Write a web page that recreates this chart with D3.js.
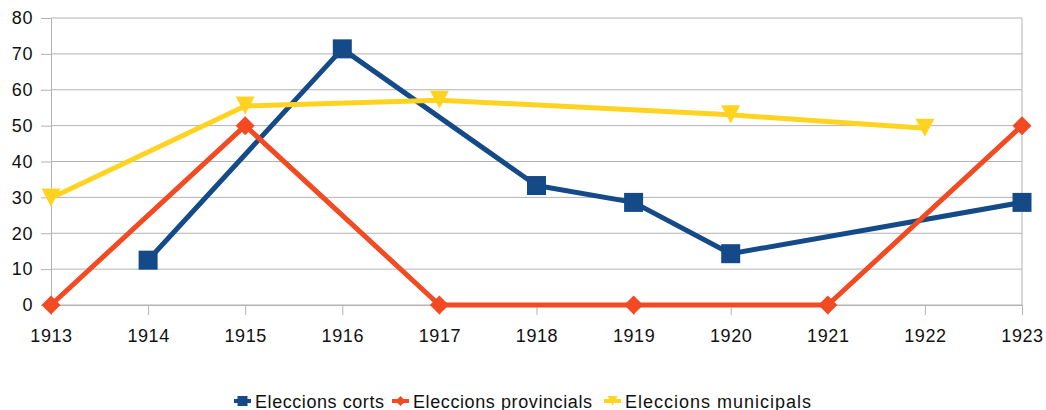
<!DOCTYPE html>
<html>
<head>
<meta charset="utf-8">
<script src="https://cdn.jsdelivr.net/npm/d3@7"></script>
<style>
  body { margin: 0; background: #fff; }
  text { font-family: "Liberation Sans", Arial, sans-serif; fill: #111; }
</style>
</head>
<body>
<svg width="1046" height="410"></svg>
<script>
const years = [1913, 1914, 1915, 1916, 1917, 1918, 1919, 1920, 1921, 1922, 1923];
const yTicks = [0, 10, 20, 30, 40, 50, 60, 70, 80];

// null = no value that year
const corts =       [null, 12.5, null, 71.4, null, 33.3, 28.6, 14.3, null, null, 28.6];
const provincials = [0,    null, 50,   null, 0,    null, 0,    null, 0,    null, 50];
const municipals =  [29.8, null, 55.5, null, 57.1, null, null, 53,   null, 49.3, null];

const seriesNames = ['Eleccions corts', 'Eleccions provincials', 'Eleccions municipals'];
const seriesColors = ['#134a87', '#f24a22', '#ffd320'];
const seriesShapes = ['square', 'diamond', 'triangle'];

const svg = d3.select('svg');
const margin = { top: 18, left: 51, right: 24, bottom: 105 };
const width = +svg.attr('width');
const height = +svg.attr('height');
const innerWidth = width - margin.left - margin.right;
const innerHeight = height - margin.top - margin.bottom;

const xScale = d3.scalePoint().domain(years).range([0, innerWidth]);
const yScale = d3.scaleLinear().domain([0, 80]).range([innerHeight, 0]);

const g = svg.append('g')
  .attr('transform', `translate(${margin.left},${margin.top})`);

// horizontal grid + y axis
const yAxis = d3.axisLeft(yScale)
  .tickValues(yTicks)
  .tickSize(10)
  .tickPadding(8);
const yAxisG = g.append('g').call(yAxis);
yAxisG.select('.domain').attr('stroke', '#b3b3b3');
yAxisG.selectAll('.tick line').attr('stroke', '#b3b3b3');
yAxisG.selectAll('.tick text').attr('font-size', 18).attr('letter-spacing', 0.6);

g.append('g').selectAll('line')
  .data(yTicks)
  .enter().append('line')
  .attr('x1', 0).attr('x2', innerWidth)
  .attr('y1', d => yScale(d)).attr('y2', d => yScale(d))
  .attr('stroke', '#b3b3b3');

// right border
g.append('line')
  .attr('x1', innerWidth).attr('x2', innerWidth)
  .attr('y1', 0).attr('y2', innerHeight)
  .attr('stroke', '#b3b3b3');

// x axis
const xAxis = d3.axisBottom(xScale).tickSize(10).tickPadding(14);
const xAxisG = g.append('g')
  .attr('transform', `translate(0,${innerHeight})`)
  .call(xAxis);
xAxisG.select('.domain').attr('stroke', '#b3b3b3');
xAxisG.selectAll('.tick line').attr('stroke', '#b3b3b3');
xAxisG.selectAll('.tick text').attr('font-size', 18).attr('letter-spacing', 0.6);

const symbolFor = (shape, size) => {
  if (shape === 'square') return d3.symbol(d3.symbolSquare, size * size)();
  const h = size / 2;
  if (shape === 'diamond') return `M0,${-h}L${h},0L0,${h}L${-h},0Z`;
  return `M${-h},${-h}L${h},${-h}L0,${h * 0.9}Z`;
};

const allSeries = [corts, provincials, municipals];

allSeries.forEach((values, i) => {
  const pts = years.map((yr, j) => ({ x: yr, y: values[j] })).filter(d => d.y !== null);
  const line = d3.line()
    .x(d => xScale(d.x))
    .y(d => yScale(d.y));
  g.append('path')
    .datum(pts)
    .attr('fill', 'none')
    .attr('stroke', seriesColors[i])
    .attr('stroke-width', 5)
    .attr('stroke-linejoin', 'round')
    .attr('d', line);
  g.append('g').selectAll('path')
    .data(pts)
    .enter().append('path')
    .attr('transform', d => `translate(${xScale(d.x)},${yScale(d.y)})`)
    .attr('d', symbolFor(seriesShapes[i], 19))
    .attr('fill', seriesColors[i]);
});

// legend
const legendX = [234, 392, 604];
const legendTextW = [129, 179, 186];
const legend = svg.append('g').attr('transform', 'translate(0,401)');
seriesNames.forEach((name, i) => {
  const item = legend.append('g').attr('transform', `translate(${legendX[i]},0)`);
  item.append('line')
    .attr('x1', 0).attr('x2', 17)
    .attr('stroke', seriesColors[i]).attr('stroke-width', 4);
  item.append('path')
    .attr('transform', 'translate(8.5,0)')
    .attr('d', symbolFor(seriesShapes[i], 10))
    .attr('fill', seriesColors[i]);
  item.append('text')
    .attr('x', 21)
    .attr('y', 7)
    .attr('font-size', 18)
    .attr('textLength', legendTextW[i])
    .attr('lengthAdjust', 'spacing')
    .text(name);
});
</script>
</body>
</html>
